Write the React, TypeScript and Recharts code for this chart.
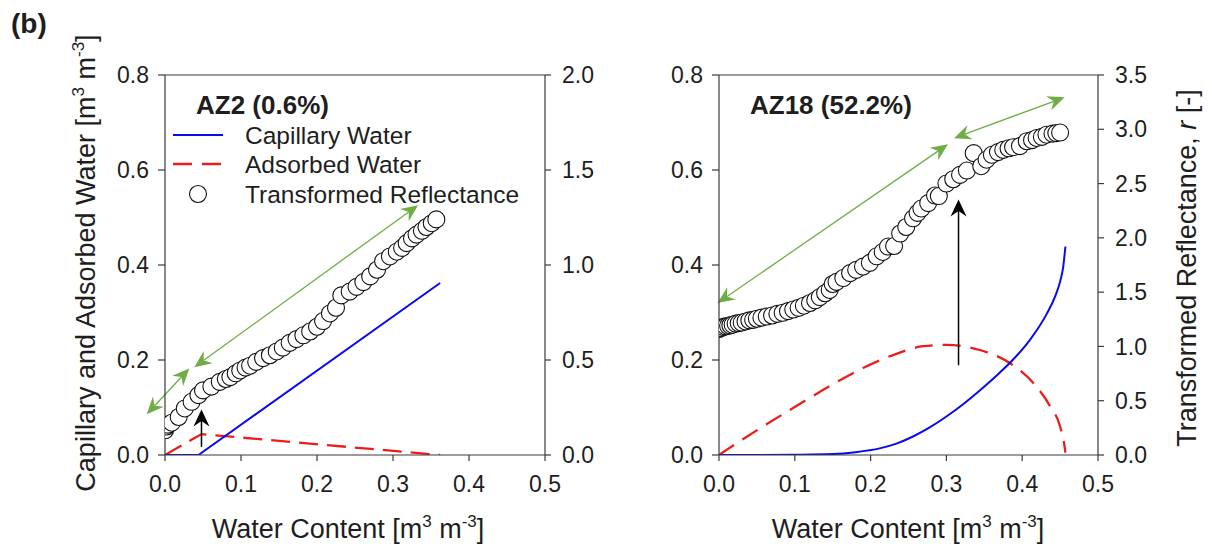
import { ComposedChart, Line, Scatter, XAxis, YAxis, ReferenceLine } from "recharts";

const FONT = "'Liberation Sans', Arial, Helvetica, sans-serif";
const GREEN = "#70ad47";
const BLUE = "#0a0aee";
const RED = "#ec1c1c";
const AXIS = "#3a3a3a";
const TXT = "#1e1e1e";

// axes
const xTicks = [0, 0.1, 0.2, 0.3, 0.4, 0.5];
const waterTicks = [0, 0.2, 0.4, 0.6, 0.8];
const az2RTicks = [0, 0.5, 1.0, 1.5, 2.0];
const az18RTicks = [0, 0.5, 1.0, 1.5, 2.0, 2.5, 3.0, 3.5];

// AZ2 (0.6%)
const az2CapTheta = [0, 0.044, 0.362];
const az2Cap = [0, 0, 0.362];
const az2AdsTheta = [0, 0.048, 0.362];
const az2Ads = [0, 0.044, 0];
const az2RTheta = [
  0, 0.002, 0.004, 0.009, 0.018, 0.026, 0.035, 0.044, 0.05, 0.061, 0.072, 0.08, 0.086, 0.093, 0.099,
  0.106, 0.112, 0.12, 0.129, 0.138, 0.147, 0.155, 0.164, 0.173, 0.182, 0.191, 0.2, 0.208, 0.217, 0.225,
  0.232, 0.243, 0.252, 0.261, 0.27, 0.279, 0.287, 0.296, 0.305, 0.312, 0.318, 0.325, 0.331, 0.338, 0.344,
  0.351, 0.357,
];
const az2R = [
  0.13, 0.15, 0.16, 0.17, 0.2, 0.245, 0.28, 0.315, 0.34, 0.36, 0.385, 0.4, 0.41, 0.43, 0.445,
  0.46, 0.47, 0.49, 0.51, 0.525, 0.545, 0.565, 0.59, 0.61, 0.63, 0.65, 0.675, 0.705, 0.745, 0.775,
  0.84, 0.86, 0.885, 0.91, 0.94, 0.975, 1.02, 1.045, 1.07, 1.09, 1.115, 1.14, 1.16, 1.18, 1.2,
  1.22, 1.24,
];

// AZ18 (52.2%)
const az18CapTheta = [0, 0.05, 0.1, 0.15, 0.18, 0.212, 0.234, 0.256, 0.278, 0.3, 0.322, 0.344, 0.366, 0.388, 0.41, 0.432, 0.444, 0.45, 0.454, 0.457];
const az18Cap = [0, 0, 0.0005, 0.002, 0.006, 0.014, 0.024, 0.039, 0.058, 0.081, 0.107, 0.136, 0.167, 0.201, 0.242, 0.296, 0.336, 0.365, 0.395, 0.439];
const az18AdsTheta = [0, 0.014, 0.058, 0.102, 0.146, 0.19, 0.234, 0.269, 0.3, 0.344, 0.388, 0.415, 0.437, 0.45, 0.456, 0.457];
const az18Ads = [0, 0.015, 0.06, 0.103, 0.145, 0.183, 0.213, 0.229, 0.232, 0.221, 0.189, 0.151, 0.102, 0.06, 0.017, 0.005];
const az18RTheta = [
  0, 0.003, 0.006, 0.009, 0.012, 0.015, 0.018, 0.022, 0.026, 0.03, 0.035, 0.04, 0.045, 0.05, 0.056,
  0.063, 0.07, 0.077, 0.084, 0.091, 0.098, 0.105, 0.112, 0.12, 0.127, 0.133, 0.14, 0.146, 0.15, 0.155,
  0.164, 0.173, 0.181, 0.19, 0.199, 0.208, 0.216, 0.223, 0.231, 0.239, 0.247, 0.256, 0.262, 0.267, 0.276,
  0.285, 0.29, 0.3, 0.309, 0.318, 0.327, 0.336, 0.346, 0.353, 0.36, 0.368, 0.375, 0.382, 0.388, 0.397,
  0.406, 0.413, 0.419, 0.426, 0.432, 0.44, 0.445, 0.45,
];
const az18R = [
  1.16, 1.17, 1.18, 1.185, 1.19, 1.195, 1.2, 1.21, 1.215, 1.22, 1.23, 1.24, 1.245, 1.255, 1.265,
  1.275, 1.285, 1.3, 1.31, 1.325, 1.34, 1.355, 1.375, 1.4, 1.425, 1.455, 1.49, 1.52, 1.575, 1.595,
  1.63, 1.675, 1.705, 1.735, 1.77, 1.83, 1.87, 1.92, 1.925, 2.04, 2.1, 2.18, 2.23, 2.27, 2.32,
  2.39, 2.385, 2.5, 2.54, 2.58, 2.62, 2.78, 2.66, 2.72, 2.765, 2.79, 2.81, 2.825, 2.835, 2.845,
  2.89, 2.9, 2.92, 2.93, 2.95, 2.96, 2.965, 2.97,
];

// annotation arrows, in (water content, left-axis) units
const az2Arrows = [
  { x1: -0.024, y1: 0.086, x2: 0.032, y2: 0.182, color: GREEN, both: true },
  { x1: 0.0386, y1: 0.185, x2: 0.333, y2: 0.526, color: GREEN, both: true },
  { x1: 0.048, y1: 0.017, x2: 0.048, y2: 0.096, color: "#000", both: false },
];
const az18Arrows = [
  { x1: -0.002, y1: 0.32, x2: 0.302, y2: 0.654, color: GREEN, both: true },
  { x1: 0.31, y1: 0.667, x2: 0.456, y2: 0.753, color: GREEN, both: true },
  { x1: 0.316, y1: 0.189, x2: 0.316, y2: 0.538, color: "#000", both: false },
];

const zip = (xs: number[], ys: number[], key: string) => xs.map((x, i) => ({ x, [key]: ys[i] }));

function head(tx: number, ty: number, fx: number, fy: number, color: string, len: number, half: number) {
  const a = Math.atan2(ty - fy, tx - fx);
  const ux = Math.cos(a), uy = Math.sin(a);
  const px = -uy, py = ux;
  const bx = tx - ux * len, by = ty - uy * len;
  const nx = tx - ux * len * 0.68, ny = ty - uy * len * 0.68;
  return {
    poly: (
      <polygon
        points={`${tx},${ty} ${bx + px * half},${by + py * half} ${nx},${ny} ${bx - px * half},${by - py * half}`}
        fill={color}
      />
    ),
    nx,
    ny,
  };
}

const arrowShape = (color: string, both: boolean) => (p: any) => {
  const { x1, y1, x2, y2 } = p;
  if ([x1, y1, x2, y2].some((v) => typeof v !== "number" || isNaN(v))) return <g />;
  const green = color === GREEN;
  const len = green ? 17 : 17;
  const half = green ? 7.5 : 8;
  const end = head(x2, y2, x1, y1, color, len, half);
  const start = both ? head(x1, y1, x2, y2, color, len, half) : null;
  return (
    <g>
      <line
        x1={start ? start.nx : x1}
        y1={start ? start.ny : y1}
        x2={end.nx}
        y2={end.ny}
        stroke={color}
        strokeWidth={green ? 1.3 : 1.5}
      />
      {start && start.poly}
      {end.poly}
    </g>
  );
};

const ring = (p: any) =>
  p.cx == null ? <g /> : <circle cx={p.cx} cy={p.cy} r={8.5} fill="#fff" stroke="#111" strokeWidth={1.1} />;

const tickStyle = { fill: TXT, fontSize: 23, fontFamily: FONT };
const fmt = (v: number) => v.toFixed(1);

interface PanelProps {
  width: number;
  margin: { top: number; right: number; bottom: number; left: number };
  cap: { x: number; y: number }[];
  ads: { x: number; y: number }[];
  refl: { x: number; r: number }[];
  rMax: number;
  rTicks: number[];
  arrows: typeof az2Arrows;
  curve: "linear" | "monotone";
  dash: string;
}

function Panel({ width, margin, cap, ads, refl, rMax, rTicks, arrows, curve, dash }: PanelProps) {
  return (
    <ComposedChart width={width} height={549} margin={margin}>
      <XAxis
        type="number"
        dataKey="x"
        domain={[0, 0.5]}
        ticks={xTicks}
        interval={0}
        tickFormatter={fmt}
        allowDataOverflow
        height={40}
        tickSize={6}
        tickMargin={15}
        stroke={AXIS}
        strokeWidth={1.2}
        tick={tickStyle}
      />
      <YAxis
        yAxisId="left"
        type="number"
        domain={[0, 0.8]}
        ticks={waterTicks}
        interval={0}
        tickFormatter={fmt}
        allowDataOverflow
        width={60}
        tickSize={7}
        tickMargin={9}
        stroke={AXIS}
        strokeWidth={1.2}
        tick={tickStyle}
      />
      <YAxis
        yAxisId="right"
        orientation="right"
        type="number"
        domain={[0, rMax]}
        ticks={rTicks}
        interval={0}
        tickFormatter={fmt}
        allowDataOverflow
        width={50}
        tickSize={6}
        tickMargin={11}
        stroke={AXIS}
        strokeWidth={1.2}
        tick={tickStyle}
      />
      <ReferenceLine yAxisId="left" y={0.8} stroke={AXIS} strokeWidth={1.2} />
      <Line
        yAxisId="left"
        data={ads}
        dataKey="y"
        type={curve}
        stroke={RED}
        strokeWidth={2.3}
        strokeDasharray={dash}
        dot={false}
        isAnimationActive={false}
      />
      <Line
        yAxisId="left"
        data={cap}
        dataKey="y"
        type={curve}
        stroke={BLUE}
        strokeWidth={2}
        dot={false}
        isAnimationActive={false}
      />
      <Scatter yAxisId="right" data={refl} dataKey="r" shape={ring} isAnimationActive={false} />
      {arrows.map((a, i) => (
        <ReferenceLine
          key={i}
          yAxisId="left"
          ifOverflow="visible"
          segment={[
            { x: a.x1, y: a.y1 },
            { x: a.x2, y: a.y2 },
          ]}
          shape={arrowShape(a.color, a.both)}
        />
      ))}
    </ComposedChart>
  );
}

const Unit = () => (
  <>
    [m<tspan dy={-11} fontSize={17}>3</tspan>
    <tspan dy={11}> m</tspan>
    <tspan dy={-11} fontSize={17}>-3</tspan>
    <tspan dy={11}>]</tspan>
  </>
);

export default function App() {
  return (
    <div style={{ position: "absolute", left: 0, top: 0, width: 1212, height: 549, background: "#fff" }}>
      <div style={{ position: "absolute", left: 0, top: 0 }}>
        <Panel
          width={600}
          margin={{ top: 75, right: 5, bottom: 54, left: 105 }}
          cap={zip(az2CapTheta, az2Cap, "y") as any}
          ads={zip(az2AdsTheta, az2Ads, "y") as any}
          refl={zip(az2RTheta, az2R, "r") as any}
          rMax={2}
          rTicks={az2RTicks}
          arrows={az2Arrows}
          curve="linear"
          dash="19 9"
        />
      </div>
      <div style={{ position: "absolute", left: 600, top: 0 }}>
        <Panel
          width={612}
          margin={{ top: 75, right: 64, bottom: 54, left: 59 }}
          cap={zip(az18CapTheta, az18Cap, "y") as any}
          ads={zip(az18AdsTheta, az18Ads, "y") as any}
          refl={zip(az18RTheta, az18R, "r") as any}
          rMax={3.5}
          rTicks={az18RTicks}
          arrows={az18Arrows}
          curve="monotone"
          dash="18 10"
        />
      </div>
      <svg
        width={1212}
        height={549}
        style={{ position: "absolute", left: 0, top: 0, pointerEvents: "none" }}
        fontFamily={FONT}
        fill={TXT}
      >
        <text x={11} y={33} fontSize={28} fontWeight="bold">(b)</text>
        <text transform="translate(95,263) rotate(-90)" textAnchor="middle" fontSize={27}>
          Capillary and Adsorbed Water <Unit />
        </text>
        <text transform="translate(1196,268) rotate(-90)" textAnchor="middle" fontSize={27}>
          Transformed Reflectance, <tspan fontStyle="italic">r</tspan> [-]
        </text>
        <text x={348} y={538} textAnchor="middle" fontSize={27}>
          Water Content <Unit />
        </text>
        <text x={908} y={538} textAnchor="middle" fontSize={27}>
          Water Content <Unit />
        </text>

        {/* AZ2 legend */}
        <text x={196} y={114} fontSize={26} fontWeight="bold">AZ2 (0.6%)</text>
        <line x1={173} y1={135} x2={223} y2={135} stroke={BLUE} strokeWidth={2} />
        <text x={245} y={143.5} fontSize={24.5}>Capillary Water</text>
        <line x1={173} y1={164} x2={223} y2={164} stroke={RED} strokeWidth={2.3} strokeDasharray="19 10" />
        <text x={245} y={172.5} fontSize={24.5}>Adsorbed Water</text>
        <circle cx={198} cy={194} r={8.5} fill="#fff" stroke="#111" strokeWidth={1.1} />
        <text x={245} y={202.5} fontSize={24.5}>Transformed Reflectance</text>

        <text x={750} y={114} fontSize={26} fontWeight="bold">AZ18 (52.2%)</text>
      </svg>
    </div>
  );
}
